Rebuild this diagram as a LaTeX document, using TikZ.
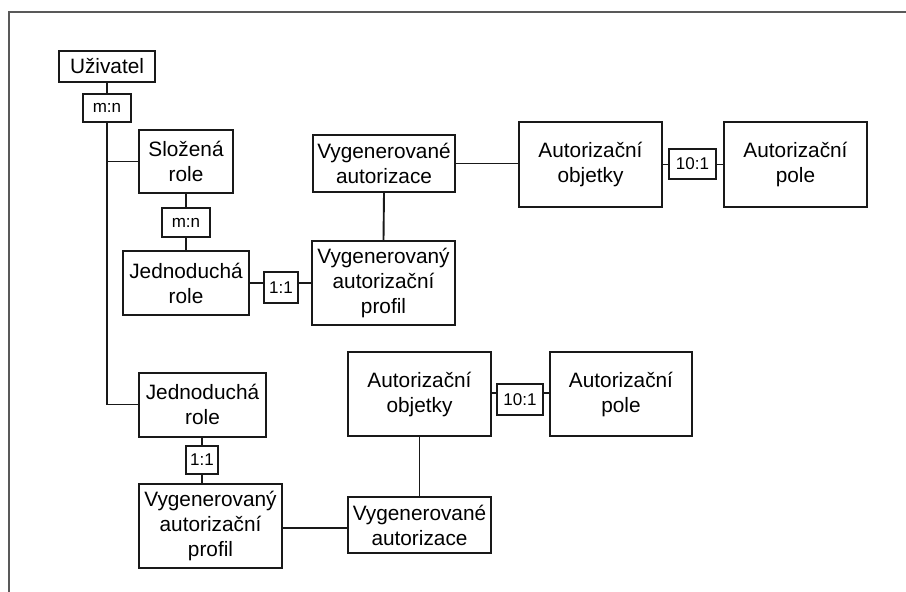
\documentclass[tikz,border=0pt]{standalone}
\usepackage{fontspec}
\setmainfont{Liberation Sans}
\begin{document}
\begin{tikzpicture}[x=1pt,y=-1pt,
  ent/.style={draw=black!90, line width=2pt, fill=white, align=center, inner sep=0pt,
    font=\fontsize{20.8}{25}\selectfont},
  card/.style={draw=black!90, line width=1.9pt, fill=white, inner sep=0pt,
    font=\fontsize{17}{20}\selectfont},
  link/.style={draw=black!90, line width=1.9pt}]
  \useasboundingbox (0,0) rectangle (906,592);
  % frame edges
  \draw[black!65, line width=1.5pt] (9,592) -- (9,12) -- (906,12);

  % entities (centre, width x height)
  \node[ent, minimum width=96pt, minimum height=31pt] (uziv) at (107,66.5) {Uživatel};
  \node[ent, minimum width=94pt, minimum height=63pt] (slozena) at (186,161.5) {Složená\\role};
  \node[ent, minimum width=126pt, minimum height=64pt] (jedn1) at (186,283) {Jednoduchá\\role};
  \node[ent, minimum width=143pt, minimum height=84pt] (profil1) at (383.5,283) {Vygenerovaný\\autorizační\\profil};
  \node[ent, minimum width=142pt, minimum height=57pt] (vygaut1) at (384,163.5) {Vygenerované\\autorizace};
  \node[ent, minimum width=143pt, minimum height=85pt] (objA) at (590.5,164.5) {Autorizační\\objetky};
  \node[ent, minimum width=143pt, minimum height=85pt] (poleA) at (795.5,164.5) {Autorizační\\pole};

  \node[ent, minimum width=127pt, minimum height=64pt] (jedn2) at (202.5,404.5) {Jednoduchá\\role};
  \node[ent, minimum width=143pt, minimum height=84pt] (profil2) at (210.5,526) {Vygenerovaný\\autorizační\\profil};
  \node[ent, minimum width=143pt, minimum height=56pt] (vygaut2) at (419.5,525) {Vygenerované\\autorizace};
  \node[ent, minimum width=143pt, minimum height=84pt] (objB) at (419.5,394) {Autorizační\\objetky};
  \node[ent, minimum width=142pt, minimum height=84pt] (poleB) at (621,394) {Autorizační\\pole};

  % connectors
  \coordinate (trunk) at (uziv.south |- jedn2.west);
  \draw[link] (uziv.south) -- (trunk) -- (jedn2.west);
  \draw[link] (uziv.south |- slozena.west) -- (slozena.west);
  \draw[link] (slozena.south) -- (jedn1.north);
  \draw[link] (jedn1.east) -- (profil1.west);
  \draw[link] (vygaut1.south) -- (profil1.north);
  \draw[link] (vygaut1.east) -- (vygaut1.east -| objA.west);
  \draw[link] (objA.east) -- (poleA.west);
  \draw[link] (jedn2.south -| 202,0) -- (202,0 |- profil2.north);
  \draw[link] (profil2.east |- 0,528) -- (vygaut2.west |- 0,528);
  \draw[link] (vygaut2.north) -- (objB.south);
  \draw[link] (objB.east |- 0,393) -- (poleB.west |- 0,393);

  % cardinality labels
  \node[card, minimum width=48pt, minimum height=28pt] (mn1) at (107,108) {m:n};
  \node[card, minimum width=48pt, minimum height=29pt] (mn2) at (186,222.5) {m:n};
  \node[card, minimum width=34pt, minimum height=31pt] (r11a) at (281,287.5) {1:1};
  \node[card, minimum width=47pt, minimum height=30pt] (r101a) at (692.5,164) {10:1};
  \node[card, minimum width=32pt, minimum height=28pt] (r11b) at (202,460) {1:1};
  \node[card, minimum width=46pt, minimum height=31pt] (r101b) at (520,399.5) {10:1};
\end{tikzpicture}
\end{document}
